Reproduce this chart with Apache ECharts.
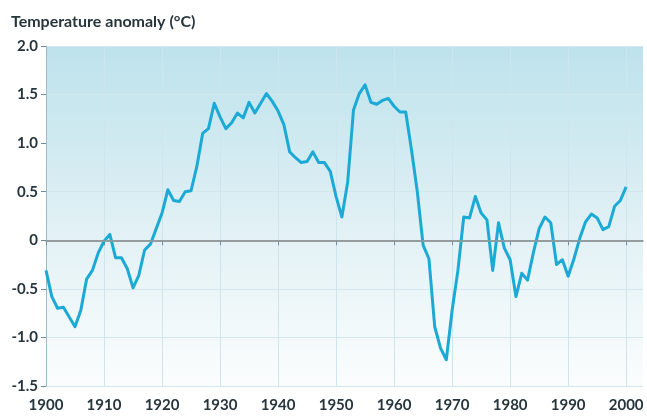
<!DOCTYPE html>
<html>
<head>
<meta charset="utf-8">
<script src="https://cdn.jsdelivr.net/npm/echarts@6/dist/echarts.min.js"></script>
<style>
  html, body { margin: 0; padding: 0; background: #fff; }
  #chart { width: 647px; height: 416px; }
</style>
</head>
<body>
<div id="chart"></div>
<script>
  // years 1900..2000, anomaly
  let years = [];
  for (let y = 1900; y <= 2000; y++) years.push(y);
  let anomaly = [
    -0.31, -0.58, -0.70, -0.69, -0.79, -0.89, -0.72, -0.40, -0.31, -0.13,
    -0.01, 0.06, -0.18, -0.18, -0.29, -0.49, -0.36, -0.10, -0.04, 0.12,
    0.28, 0.52, 0.41, 0.40, 0.50, 0.51, 0.76, 1.10, 1.15, 1.41,
    1.27, 1.15, 1.21, 1.31, 1.26, 1.42, 1.31, 1.41, 1.51, 1.43,
    1.33, 1.19, 0.91, 0.85, 0.80, 0.81, 0.91, 0.80, 0.80, 0.71,
    0.45, 0.24, 0.60, 1.34, 1.51, 1.60, 1.42, 1.40, 1.44, 1.46,
    1.38, 1.32, 1.32, 0.93, 0.50, -0.05, -0.19, -0.89, -1.11, -1.23,
    -0.72, -0.31, 0.24, 0.23, 0.45, 0.28, 0.21, -0.31, 0.18, -0.08,
    -0.20, -0.58, -0.34, -0.41, -0.13, 0.12, 0.24, 0.18, -0.25, -0.20,
    -0.37, -0.19, 0.02, 0.19, 0.27, 0.23, 0.11, 0.14, 0.35, 0.41,
    0.55
  ];
  let xTicks = [1900, 1910, 1920, 1930, 1940, 1950, 1960, 1970, 1980, 1990, 2000];

  let chart = echarts.init(document.getElementById('chart'));
  let points = years.map((y, i) => [y, anomaly[i]]);
  let textColor = '#27363c';

  chart.setOption({
    animation: false,
    title: {
      text: 'Temperature anomaly (°C)',
      left: 6,
      top: 9,
      textStyle: { fontFamily: 'Lato', fontSize: 16, fontWeight: 'bold', color: textColor }
    },
    grid: {
      left: 46, top: 46, right: 4, bottom: 30,
      show: true,
      borderWidth: 0,
      backgroundColor: new echarts.graphic.LinearGradient(0, 0, 0, 1, [
        { offset: 0, color: '#bde2ec' },
        { offset: 0.55, color: '#e2f1f5' },
        { offset: 1, color: '#fbfdfd' }
      ])
    },
    xAxis: {
      type: 'value',
      min: 1900,
      max: 2002.9,
      axisLine: { show: true, lineStyle: { color: '#6d8e9b', width: 1.5 } },
      axisTick: { show: true, length: 5, customValues: xTicks, lineStyle: { color: '#6d8e9b' } },
      axisLabel: {
        customValues: xTicks,
        margin: 12,
        formatter: v => String(v),
        fontFamily: 'Lato', fontSize: 15, fontWeight: 'bold', color: textColor
      },
      splitLine: { show: true, lineStyle: { color: '#cfe5ee', width: 1 } }
    },
    yAxis: {
      type: 'value',
      min: -1.5,
      max: 2.0,
      interval: 0.5,
      axisLine: { show: true, lineStyle: { color: '#9dbac6', width: 1 } },
      axisTick: { show: true, length: 5, lineStyle: { color: '#6d8e9b' } },
      axisLabel: {
        margin: 8,
        fontFamily: 'Lato', fontSize: 15, fontWeight: 'bold', color: textColor,
        formatter: v => (v === 0 ? '0' : v.toFixed(1))
      },
      splitLine: { show: true, lineStyle: { color: '#d3e7ee', width: 1 } }
    },
    series: [{
      type: 'line',
      data: points,
      symbol: 'none',
      lineStyle: { color: '#1ba9d5', width: 3, join: 'round' },
      markLine: {
        silent: true,
        symbol: 'none',
        label: { show: false },
        lineStyle: { color: '#9a9a9a', width: 1.5, type: 'solid' },
        data: [{ yAxis: 0 }]
      },
      z: 3
    }]
  });
</script>
</body>
</html>
